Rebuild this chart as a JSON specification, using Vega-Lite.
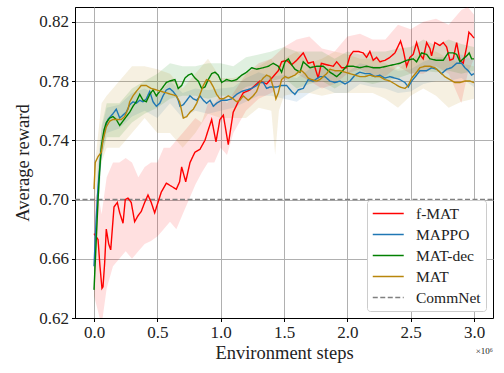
{
"$schema": "https://vega.github.io/schema/vega-lite/v6.json",
"width": 418, "height": 311,
"autosize": {"type": "none"},
"padding": {"left": 75, "top": 7, "right": 11, "bottom": 55},
"background": "white",
"config": {
  "font": "Liberation Serif",
  "view": {"stroke": "#000", "strokeWidth": 1},
  "axis": {"grid": true, "gridColor": "#b0b0b0", "gridWidth": 1, "domainColor": "#000", "domainWidth": 1, "tickColor": "#000", "tickSize": 3.5, "labelFont": "Liberation Serif", "labelFontSize": 17, "labelColor": "#222", "titleFont": "Liberation Serif", "titleFontSize": 18.5, "titleFontWeight": "normal", "titleColor": "#222", "labelPadding": 3, "titlePadding": 3},
  "legend": {"labelFont": "Liberation Serif", "labelFontSize": 15.5, "labelColor": "#222", "symbolStrokeWidth": 1.5, "padding": 5, "strokeColor": "#cccccc", "fillColor": "#ffffff", "cornerRadius": 3}
},
"datasets": {
"bands": [
{"s":"f-MAT","x":0.00,"lo":0.635,"hi":0.700},{"s":"f-MAT","x":0.03,"lo":0.625,"hi":0.705},{"s":"f-MAT","x":0.06,"lo":0.615,"hi":0.690},{"s":"f-MAT","x":0.10,"lo":0.640,"hi":0.715},{"s":"f-MAT","x":0.15,"lo":0.655,"hi":0.725},{"s":"f-MAT","x":0.20,"lo":0.660,"hi":0.725},{"s":"f-MAT","x":0.25,"lo":0.665,"hi":0.728},{"s":"f-MAT","x":0.30,"lo":0.660,"hi":0.725},{"s":"f-MAT","x":0.35,"lo":0.665,"hi":0.715},{"s":"f-MAT","x":0.40,"lo":0.670,"hi":0.722},{"s":"f-MAT","x":0.45,"lo":0.672,"hi":0.725},{"s":"f-MAT","x":0.50,"lo":0.675,"hi":0.725},{"s":"f-MAT","x":0.55,"lo":0.680,"hi":0.735},{"s":"f-MAT","x":0.60,"lo":0.685,"hi":0.735},{"s":"f-MAT","x":0.65,"lo":0.680,"hi":0.740},{"s":"f-MAT","x":0.70,"lo":0.690,"hi":0.745},{"s":"f-MAT","x":0.75,"lo":0.700,"hi":0.750},{"s":"f-MAT","x":0.80,"lo":0.710,"hi":0.755},{"s":"f-MAT","x":0.85,"lo":0.718,"hi":0.752},{"s":"f-MAT","x":0.90,"lo":0.725,"hi":0.765},{"s":"f-MAT","x":0.95,"lo":0.725,"hi":0.765},{"s":"f-MAT","x":1.00,"lo":0.735,"hi":0.770},{"s":"f-MAT","x":1.05,"lo":0.730,"hi":0.765},{"s":"f-MAT","x":1.10,"lo":0.745,"hi":0.772},{"s":"f-MAT","x":1.20,"lo":0.760,"hi":0.785},{"s":"f-MAT","x":1.30,"lo":0.768,"hi":0.792},{"s":"f-MAT","x":1.40,"lo":0.772,"hi":0.795},{"s":"f-MAT","x":1.50,"lo":0.780,"hi":0.803},{"s":"f-MAT","x":1.60,"lo":0.785,"hi":0.808},{"s":"f-MAT","x":1.70,"lo":0.780,"hi":0.810},{"s":"f-MAT","x":1.80,"lo":0.775,"hi":0.802},{"s":"f-MAT","x":1.90,"lo":0.778,"hi":0.800},{"s":"f-MAT","x":2.00,"lo":0.785,"hi":0.810},{"s":"f-MAT","x":2.10,"lo":0.788,"hi":0.812},{"s":"f-MAT","x":2.20,"lo":0.783,"hi":0.808},{"s":"f-MAT","x":2.30,"lo":0.783,"hi":0.808},{"s":"f-MAT","x":2.40,"lo":0.790,"hi":0.818},{"s":"f-MAT","x":2.50,"lo":0.785,"hi":0.815},{"s":"f-MAT","x":2.60,"lo":0.785,"hi":0.820},{"s":"f-MAT","x":2.70,"lo":0.790,"hi":0.822},{"s":"f-MAT","x":2.80,"lo":0.785,"hi":0.818},{"s":"f-MAT","x":2.90,"lo":0.765,"hi":0.828},{"s":"f-MAT","x":2.95,"lo":0.785,"hi":0.830},{"s":"f-MAT","x":3.00,"lo":0.795,"hi":0.825},
{"s":"MAPPO","x":0.00,"lo":0.640,"hi":0.670},{"s":"MAPPO","x":0.03,"lo":0.690,"hi":0.725},{"s":"MAPPO","x":0.06,"lo":0.728,"hi":0.748},{"s":"MAPPO","x":0.10,"lo":0.745,"hi":0.762},{"s":"MAPPO","x":0.20,"lo":0.748,"hi":0.764},{"s":"MAPPO","x":0.30,"lo":0.756,"hi":0.772},{"s":"MAPPO","x":0.40,"lo":0.760,"hi":0.775},{"s":"MAPPO","x":0.50,"lo":0.755,"hi":0.770},{"s":"MAPPO","x":0.60,"lo":0.765,"hi":0.780},{"s":"MAPPO","x":0.70,"lo":0.755,"hi":0.772},{"s":"MAPPO","x":0.80,"lo":0.760,"hi":0.775},{"s":"MAPPO","x":0.90,"lo":0.758,"hi":0.774},{"s":"MAPPO","x":1.00,"lo":0.760,"hi":0.775},{"s":"MAPPO","x":1.10,"lo":0.762,"hi":0.776},{"s":"MAPPO","x":1.20,"lo":0.766,"hi":0.782},{"s":"MAPPO","x":1.30,"lo":0.770,"hi":0.786},{"s":"MAPPO","x":1.40,"lo":0.770,"hi":0.783},{"s":"MAPPO","x":1.50,"lo":0.768,"hi":0.784},{"s":"MAPPO","x":1.60,"lo":0.766,"hi":0.782},{"s":"MAPPO","x":1.70,"lo":0.772,"hi":0.788},{"s":"MAPPO","x":1.80,"lo":0.776,"hi":0.790},{"s":"MAPPO","x":1.90,"lo":0.772,"hi":0.787},{"s":"MAPPO","x":2.00,"lo":0.772,"hi":0.786},{"s":"MAPPO","x":2.10,"lo":0.778,"hi":0.792},{"s":"MAPPO","x":2.20,"lo":0.776,"hi":0.790},{"s":"MAPPO","x":2.30,"lo":0.775,"hi":0.790},{"s":"MAPPO","x":2.40,"lo":0.772,"hi":0.787},{"s":"MAPPO","x":2.50,"lo":0.773,"hi":0.788},{"s":"MAPPO","x":2.60,"lo":0.778,"hi":0.793},{"s":"MAPPO","x":2.70,"lo":0.780,"hi":0.796},{"s":"MAPPO","x":2.80,"lo":0.780,"hi":0.796},{"s":"MAPPO","x":2.90,"lo":0.782,"hi":0.798},{"s":"MAPPO","x":3.00,"lo":0.776,"hi":0.794},
{"s":"MAT-dec","x":0.00,"lo":0.625,"hi":0.655},{"s":"MAT-dec","x":0.03,"lo":0.685,"hi":0.715},{"s":"MAT-dec","x":0.06,"lo":0.728,"hi":0.750},{"s":"MAT-dec","x":0.10,"lo":0.742,"hi":0.765},{"s":"MAT-dec","x":0.20,"lo":0.742,"hi":0.765},{"s":"MAT-dec","x":0.30,"lo":0.752,"hi":0.775},{"s":"MAT-dec","x":0.40,"lo":0.758,"hi":0.780},{"s":"MAT-dec","x":0.50,"lo":0.762,"hi":0.785},{"s":"MAT-dec","x":0.60,"lo":0.768,"hi":0.792},{"s":"MAT-dec","x":0.70,"lo":0.770,"hi":0.790},{"s":"MAT-dec","x":0.80,"lo":0.770,"hi":0.790},{"s":"MAT-dec","x":0.90,"lo":0.768,"hi":0.792},{"s":"MAT-dec","x":1.00,"lo":0.770,"hi":0.792},{"s":"MAT-dec","x":1.10,"lo":0.770,"hi":0.790},{"s":"MAT-dec","x":1.20,"lo":0.776,"hi":0.796},{"s":"MAT-dec","x":1.30,"lo":0.778,"hi":0.798},{"s":"MAT-dec","x":1.40,"lo":0.780,"hi":0.800},{"s":"MAT-dec","x":1.50,"lo":0.782,"hi":0.803},{"s":"MAT-dec","x":1.60,"lo":0.775,"hi":0.800},{"s":"MAT-dec","x":1.70,"lo":0.778,"hi":0.800},{"s":"MAT-dec","x":1.80,"lo":0.780,"hi":0.800},{"s":"MAT-dec","x":1.90,"lo":0.775,"hi":0.795},{"s":"MAT-dec","x":2.00,"lo":0.780,"hi":0.800},{"s":"MAT-dec","x":2.10,"lo":0.780,"hi":0.798},{"s":"MAT-dec","x":2.20,"lo":0.778,"hi":0.800},{"s":"MAT-dec","x":2.30,"lo":0.780,"hi":0.800},{"s":"MAT-dec","x":2.40,"lo":0.782,"hi":0.802},{"s":"MAT-dec","x":2.50,"lo":0.785,"hi":0.803},{"s":"MAT-dec","x":2.60,"lo":0.787,"hi":0.808},{"s":"MAT-dec","x":2.70,"lo":0.786,"hi":0.804},{"s":"MAT-dec","x":2.80,"lo":0.787,"hi":0.808},{"s":"MAT-dec","x":2.90,"lo":0.785,"hi":0.805},{"s":"MAT-dec","x":3.00,"lo":0.787,"hi":0.803},
{"s":"MAT","x":0.00,"lo":0.695,"hi":0.718},{"s":"MAT","x":0.03,"lo":0.715,"hi":0.742},{"s":"MAT","x":0.06,"lo":0.725,"hi":0.765},{"s":"MAT","x":0.10,"lo":0.735,"hi":0.770},{"s":"MAT","x":0.20,"lo":0.735,"hi":0.780},{"s":"MAT","x":0.30,"lo":0.745,"hi":0.790},{"s":"MAT","x":0.40,"lo":0.755,"hi":0.790},{"s":"MAT","x":0.50,"lo":0.745,"hi":0.788},{"s":"MAT","x":0.60,"lo":0.745,"hi":0.785},{"s":"MAT","x":0.70,"lo":0.735,"hi":0.775},{"s":"MAT","x":0.80,"lo":0.745,"hi":0.785},{"s":"MAT","x":0.90,"lo":0.758,"hi":0.795},{"s":"MAT","x":1.00,"lo":0.755,"hi":0.782},{"s":"MAT","x":1.10,"lo":0.755,"hi":0.782},{"s":"MAT","x":1.20,"lo":0.755,"hi":0.785},{"s":"MAT","x":1.30,"lo":0.762,"hi":0.790},{"s":"MAT","x":1.40,"lo":0.760,"hi":0.795},{"s":"MAT","x":1.43,"lo":0.730,"hi":0.790},{"s":"MAT","x":1.46,"lo":0.760,"hi":0.790},{"s":"MAT","x":1.50,"lo":0.770,"hi":0.795},{"s":"MAT","x":1.60,"lo":0.772,"hi":0.800},{"s":"MAT","x":1.70,"lo":0.772,"hi":0.792},{"s":"MAT","x":1.80,"lo":0.770,"hi":0.795},{"s":"MAT","x":1.90,"lo":0.772,"hi":0.800},{"s":"MAT","x":2.00,"lo":0.772,"hi":0.798},{"s":"MAT","x":2.10,"lo":0.772,"hi":0.795},{"s":"MAT","x":2.20,"lo":0.772,"hi":0.795},{"s":"MAT","x":2.30,"lo":0.768,"hi":0.792},{"s":"MAT","x":2.40,"lo":0.762,"hi":0.788},{"s":"MAT","x":2.50,"lo":0.770,"hi":0.795},{"s":"MAT","x":2.60,"lo":0.775,"hi":0.800},{"s":"MAT","x":2.70,"lo":0.770,"hi":0.800},{"s":"MAT","x":2.80,"lo":0.762,"hi":0.795},{"s":"MAT","x":2.90,"lo":0.766,"hi":0.792},{"s":"MAT","x":3.00,"lo":0.768,"hi":0.790}
],
"lines": [
{"s":"CommNet","x":-0.15,"y":0.70},{"s":"CommNet","x":3.15,"y":0.70},
{"s":"f-MAT","x":0.000,"y":0.677},{"s":"f-MAT","x":0.032,"y":0.673},{"s":"f-MAT","x":0.047,"y":0.655},{"s":"f-MAT","x":0.063,"y":0.640},{"s":"f-MAT","x":0.071,"y":0.641},{"s":"f-MAT","x":0.084,"y":0.657},{"s":"f-MAT","x":0.097,"y":0.680},{"s":"f-MAT","x":0.116,"y":0.670},{"s":"f-MAT","x":0.132,"y":0.666},{"s":"f-MAT","x":0.158,"y":0.695},{"s":"f-MAT","x":0.184,"y":0.698},{"s":"f-MAT","x":0.203,"y":0.691},{"s":"f-MAT","x":0.229,"y":0.684},{"s":"f-MAT","x":0.247,"y":0.700},{"s":"f-MAT","x":0.268,"y":0.701},{"s":"f-MAT","x":0.294,"y":0.698},{"s":"f-MAT","x":0.321,"y":0.685},{"s":"f-MAT","x":0.347,"y":0.689},{"s":"f-MAT","x":0.373,"y":0.692},{"s":"f-MAT","x":0.400,"y":0.698},{"s":"f-MAT","x":0.426,"y":0.703},{"s":"f-MAT","x":0.452,"y":0.698},{"s":"f-MAT","x":0.479,"y":0.691},{"s":"f-MAT","x":0.505,"y":0.698},{"s":"f-MAT","x":0.531,"y":0.705},{"s":"f-MAT","x":0.571,"y":0.711},{"s":"f-MAT","x":0.610,"y":0.709},{"s":"f-MAT","x":0.650,"y":0.707},{"s":"f-MAT","x":0.676,"y":0.712},{"s":"f-MAT","x":0.692,"y":0.722},{"s":"f-MAT","x":0.724,"y":0.712},{"s":"f-MAT","x":0.758,"y":0.725},{"s":"f-MAT","x":0.797,"y":0.732},{"s":"f-MAT","x":0.837,"y":0.734},{"s":"f-MAT","x":0.876,"y":0.740},{"s":"f-MAT","x":0.902,"y":0.747},{"s":"f-MAT","x":0.929,"y":0.754},{"s":"f-MAT","x":0.963,"y":0.739},{"s":"f-MAT","x":0.994,"y":0.754},{"s":"f-MAT","x":1.021,"y":0.757},{"s":"f-MAT","x":1.060,"y":0.737},{"s":"f-MAT","x":1.099,"y":0.759},{"s":"f-MAT","x":1.139,"y":0.766},{"s":"f-MAT","x":1.178,"y":0.772},{"s":"f-MAT","x":1.231,"y":0.774},{"s":"f-MAT","x":1.270,"y":0.777},{"s":"f-MAT","x":1.310,"y":0.780},{"s":"f-MAT","x":1.363,"y":0.778},{"s":"f-MAT","x":1.415,"y":0.783},{"s":"f-MAT","x":1.455,"y":0.787},{"s":"f-MAT","x":1.481,"y":0.793},{"s":"f-MAT","x":1.521,"y":0.794},{"s":"f-MAT","x":1.560,"y":0.791},{"s":"f-MAT","x":1.600,"y":0.794},{"s":"f-MAT","x":1.652,"y":0.799},{"s":"f-MAT","x":1.691,"y":0.792},{"s":"f-MAT","x":1.731,"y":0.793},{"s":"f-MAT","x":1.770,"y":0.782},{"s":"f-MAT","x":1.795,"y":0.792},{"s":"f-MAT","x":1.837,"y":0.791},{"s":"f-MAT","x":1.889,"y":0.790},{"s":"f-MAT","x":1.916,"y":0.793},{"s":"f-MAT","x":1.955,"y":0.789},{"s":"f-MAT","x":1.994,"y":0.789},{"s":"f-MAT","x":2.021,"y":0.797},{"s":"f-MAT","x":2.047,"y":0.800},{"s":"f-MAT","x":2.086,"y":0.800},{"s":"f-MAT","x":2.125,"y":0.799},{"s":"f-MAT","x":2.152,"y":0.796},{"s":"f-MAT","x":2.178,"y":0.800},{"s":"f-MAT","x":2.204,"y":0.794},{"s":"f-MAT","x":2.231,"y":0.796},{"s":"f-MAT","x":2.257,"y":0.793},{"s":"f-MAT","x":2.297,"y":0.794},{"s":"f-MAT","x":2.336,"y":0.796},{"s":"f-MAT","x":2.376,"y":0.799},{"s":"f-MAT","x":2.420,"y":0.807},{"s":"f-MAT","x":2.441,"y":0.801},{"s":"f-MAT","x":2.468,"y":0.790},{"s":"f-MAT","x":2.494,"y":0.796},{"s":"f-MAT","x":2.520,"y":0.798},{"s":"f-MAT","x":2.547,"y":0.806},{"s":"f-MAT","x":2.573,"y":0.798},{"s":"f-MAT","x":2.599,"y":0.795},{"s":"f-MAT","x":2.626,"y":0.806},{"s":"f-MAT","x":2.652,"y":0.802},{"s":"f-MAT","x":2.665,"y":0.797},{"s":"f-MAT","x":2.691,"y":0.806},{"s":"f-MAT","x":2.731,"y":0.804},{"s":"f-MAT","x":2.757,"y":0.806},{"s":"f-MAT","x":2.784,"y":0.803},{"s":"f-MAT","x":2.810,"y":0.794},{"s":"f-MAT","x":2.836,"y":0.795},{"s":"f-MAT","x":2.863,"y":0.806},{"s":"f-MAT","x":2.889,"y":0.794},{"s":"f-MAT","x":2.915,"y":0.792},{"s":"f-MAT","x":2.942,"y":0.803},{"s":"f-MAT","x":2.960,"y":0.813},{"s":"f-MAT","x":2.981,"y":0.811},{"s":"f-MAT","x":3.000,"y":0.809},
{"s":"MAPPO","x":0.000,"y":0.655},{"s":"MAPPO","x":0.016,"y":0.685},{"s":"MAPPO","x":0.032,"y":0.709},{"s":"MAPPO","x":0.058,"y":0.734},{"s":"MAPPO","x":0.084,"y":0.747},{"s":"MAPPO","x":0.110,"y":0.754},{"s":"MAPPO","x":0.150,"y":0.758},{"s":"MAPPO","x":0.176,"y":0.761},{"s":"MAPPO","x":0.203,"y":0.755},{"s":"MAPPO","x":0.229,"y":0.757},{"s":"MAPPO","x":0.255,"y":0.759},{"s":"MAPPO","x":0.282,"y":0.764},{"s":"MAPPO","x":0.308,"y":0.766},{"s":"MAPPO","x":0.334,"y":0.765},{"s":"MAPPO","x":0.361,"y":0.767},{"s":"MAPPO","x":0.387,"y":0.766},{"s":"MAPPO","x":0.413,"y":0.768},{"s":"MAPPO","x":0.440,"y":0.773},{"s":"MAPPO","x":0.466,"y":0.766},{"s":"MAPPO","x":0.492,"y":0.763},{"s":"MAPPO","x":0.519,"y":0.765},{"s":"MAPPO","x":0.545,"y":0.770},{"s":"MAPPO","x":0.571,"y":0.774},{"s":"MAPPO","x":0.597,"y":0.775},{"s":"MAPPO","x":0.624,"y":0.773},{"s":"MAPPO","x":0.650,"y":0.770},{"s":"MAPPO","x":0.665,"y":0.767},{"s":"MAPPO","x":0.679,"y":0.763},{"s":"MAPPO","x":0.705,"y":0.764},{"s":"MAPPO","x":0.732,"y":0.767},{"s":"MAPPO","x":0.758,"y":0.770},{"s":"MAPPO","x":0.784,"y":0.768},{"s":"MAPPO","x":0.811,"y":0.767},{"s":"MAPPO","x":0.837,"y":0.770},{"s":"MAPPO","x":0.863,"y":0.767},{"s":"MAPPO","x":0.889,"y":0.765},{"s":"MAPPO","x":0.916,"y":0.767},{"s":"MAPPO","x":0.942,"y":0.763},{"s":"MAPPO","x":0.968,"y":0.765},{"s":"MAPPO","x":1.008,"y":0.767},{"s":"MAPPO","x":1.047,"y":0.767},{"s":"MAPPO","x":1.087,"y":0.768},{"s":"MAPPO","x":1.126,"y":0.771},{"s":"MAPPO","x":1.166,"y":0.773},{"s":"MAPPO","x":1.205,"y":0.774},{"s":"MAPPO","x":1.245,"y":0.775},{"s":"MAPPO","x":1.284,"y":0.777},{"s":"MAPPO","x":1.310,"y":0.779},{"s":"MAPPO","x":1.336,"y":0.779},{"s":"MAPPO","x":1.363,"y":0.775},{"s":"MAPPO","x":1.389,"y":0.776},{"s":"MAPPO","x":1.442,"y":0.776},{"s":"MAPPO","x":1.481,"y":0.777},{"s":"MAPPO","x":1.521,"y":0.777},{"s":"MAPPO","x":1.560,"y":0.773},{"s":"MAPPO","x":1.586,"y":0.771},{"s":"MAPPO","x":1.612,"y":0.774},{"s":"MAPPO","x":1.652,"y":0.775},{"s":"MAPPO","x":1.691,"y":0.781},{"s":"MAPPO","x":1.731,"y":0.780},{"s":"MAPPO","x":1.784,"y":0.783},{"s":"MAPPO","x":1.823,"y":0.783},{"s":"MAPPO","x":1.863,"y":0.780},{"s":"MAPPO","x":1.902,"y":0.779},{"s":"MAPPO","x":1.942,"y":0.780},{"s":"MAPPO","x":1.981,"y":0.778},{"s":"MAPPO","x":2.021,"y":0.780},{"s":"MAPPO","x":2.060,"y":0.784},{"s":"MAPPO","x":2.099,"y":0.786},{"s":"MAPPO","x":2.139,"y":0.785},{"s":"MAPPO","x":2.178,"y":0.785},{"s":"MAPPO","x":2.218,"y":0.783},{"s":"MAPPO","x":2.257,"y":0.784},{"s":"MAPPO","x":2.297,"y":0.782},{"s":"MAPPO","x":2.336,"y":0.783},{"s":"MAPPO","x":2.376,"y":0.782},{"s":"MAPPO","x":2.415,"y":0.781},{"s":"MAPPO","x":2.455,"y":0.779},{"s":"MAPPO","x":2.481,"y":0.776},{"s":"MAPPO","x":2.508,"y":0.780},{"s":"MAPPO","x":2.547,"y":0.784},{"s":"MAPPO","x":2.573,"y":0.787},{"s":"MAPPO","x":2.626,"y":0.787},{"s":"MAPPO","x":2.665,"y":0.789},{"s":"MAPPO","x":2.705,"y":0.788},{"s":"MAPPO","x":2.744,"y":0.785},{"s":"MAPPO","x":2.784,"y":0.788},{"s":"MAPPO","x":2.823,"y":0.789},{"s":"MAPPO","x":2.863,"y":0.792},{"s":"MAPPO","x":2.902,"y":0.792},{"s":"MAPPO","x":2.928,"y":0.789},{"s":"MAPPO","x":2.954,"y":0.787},{"s":"MAPPO","x":2.981,"y":0.784},{"s":"MAPPO","x":3.000,"y":0.785},
{"s":"MAT-dec","x":0.000,"y":0.639},{"s":"MAT-dec","x":0.032,"y":0.700},{"s":"MAT-dec","x":0.045,"y":0.720},{"s":"MAT-dec","x":0.058,"y":0.736},{"s":"MAT-dec","x":0.079,"y":0.747},{"s":"MAT-dec","x":0.097,"y":0.752},{"s":"MAT-dec","x":0.124,"y":0.755},{"s":"MAT-dec","x":0.150,"y":0.756},{"s":"MAT-dec","x":0.176,"y":0.754},{"s":"MAT-dec","x":0.203,"y":0.750},{"s":"MAT-dec","x":0.229,"y":0.753},{"s":"MAT-dec","x":0.255,"y":0.756},{"s":"MAT-dec","x":0.282,"y":0.759},{"s":"MAT-dec","x":0.308,"y":0.763},{"s":"MAT-dec","x":0.334,"y":0.766},{"s":"MAT-dec","x":0.361,"y":0.771},{"s":"MAT-dec","x":0.387,"y":0.767},{"s":"MAT-dec","x":0.413,"y":0.766},{"s":"MAT-dec","x":0.440,"y":0.771},{"s":"MAT-dec","x":0.466,"y":0.774},{"s":"MAT-dec","x":0.492,"y":0.770},{"s":"MAT-dec","x":0.519,"y":0.773},{"s":"MAT-dec","x":0.545,"y":0.776},{"s":"MAT-dec","x":0.571,"y":0.779},{"s":"MAT-dec","x":0.597,"y":0.780},{"s":"MAT-dec","x":0.639,"y":0.781},{"s":"MAT-dec","x":0.665,"y":0.775},{"s":"MAT-dec","x":0.692,"y":0.777},{"s":"MAT-dec","x":0.718,"y":0.782},{"s":"MAT-dec","x":0.744,"y":0.784},{"s":"MAT-dec","x":0.771,"y":0.785},{"s":"MAT-dec","x":0.797,"y":0.782},{"s":"MAT-dec","x":0.823,"y":0.780},{"s":"MAT-dec","x":0.850,"y":0.775},{"s":"MAT-dec","x":0.876,"y":0.776},{"s":"MAT-dec","x":0.902,"y":0.781},{"s":"MAT-dec","x":0.929,"y":0.785},{"s":"MAT-dec","x":0.955,"y":0.786},{"s":"MAT-dec","x":0.981,"y":0.784},{"s":"MAT-dec","x":1.008,"y":0.779},{"s":"MAT-dec","x":1.047,"y":0.781},{"s":"MAT-dec","x":1.087,"y":0.780},{"s":"MAT-dec","x":1.126,"y":0.781},{"s":"MAT-dec","x":1.166,"y":0.784},{"s":"MAT-dec","x":1.205,"y":0.786},{"s":"MAT-dec","x":1.245,"y":0.789},{"s":"MAT-dec","x":1.284,"y":0.788},{"s":"MAT-dec","x":1.336,"y":0.789},{"s":"MAT-dec","x":1.376,"y":0.790},{"s":"MAT-dec","x":1.415,"y":0.792},{"s":"MAT-dec","x":1.455,"y":0.790},{"s":"MAT-dec","x":1.481,"y":0.786},{"s":"MAT-dec","x":1.508,"y":0.793},{"s":"MAT-dec","x":1.534,"y":0.795},{"s":"MAT-dec","x":1.560,"y":0.791},{"s":"MAT-dec","x":1.586,"y":0.788},{"s":"MAT-dec","x":1.626,"y":0.786},{"s":"MAT-dec","x":1.652,"y":0.793},{"s":"MAT-dec","x":1.705,"y":0.789},{"s":"MAT-dec","x":1.758,"y":0.790},{"s":"MAT-dec","x":1.810,"y":0.790},{"s":"MAT-dec","x":1.863,"y":0.786},{"s":"MAT-dec","x":1.916,"y":0.783},{"s":"MAT-dec","x":1.942,"y":0.785},{"s":"MAT-dec","x":1.994,"y":0.790},{"s":"MAT-dec","x":2.047,"y":0.790},{"s":"MAT-dec","x":2.099,"y":0.789},{"s":"MAT-dec","x":2.152,"y":0.790},{"s":"MAT-dec","x":2.204,"y":0.789},{"s":"MAT-dec","x":2.257,"y":0.789},{"s":"MAT-dec","x":2.310,"y":0.790},{"s":"MAT-dec","x":2.362,"y":0.791},{"s":"MAT-dec","x":2.415,"y":0.792},{"s":"MAT-dec","x":2.468,"y":0.794},{"s":"MAT-dec","x":2.520,"y":0.795},{"s":"MAT-dec","x":2.547,"y":0.793},{"s":"MAT-dec","x":2.586,"y":0.799},{"s":"MAT-dec","x":2.626,"y":0.798},{"s":"MAT-dec","x":2.652,"y":0.795},{"s":"MAT-dec","x":2.705,"y":0.794},{"s":"MAT-dec","x":2.757,"y":0.794},{"s":"MAT-dec","x":2.796,"y":0.799},{"s":"MAT-dec","x":2.836,"y":0.799},{"s":"MAT-dec","x":2.863,"y":0.798},{"s":"MAT-dec","x":2.889,"y":0.793},{"s":"MAT-dec","x":2.915,"y":0.795},{"s":"MAT-dec","x":2.942,"y":0.797},{"s":"MAT-dec","x":2.962,"y":0.799},{"s":"MAT-dec","x":2.981,"y":0.795},{"s":"MAT-dec","x":3.000,"y":0.795},
{"s":"MAT","x":0.000,"y":0.707},{"s":"MAT","x":0.010,"y":0.725},{"s":"MAT","x":0.032,"y":0.729},{"s":"MAT","x":0.058,"y":0.732},{"s":"MAT","x":0.071,"y":0.740},{"s":"MAT","x":0.097,"y":0.749},{"s":"MAT","x":0.124,"y":0.753},{"s":"MAT","x":0.150,"y":0.754},{"s":"MAT","x":0.189,"y":0.754},{"s":"MAT","x":0.215,"y":0.754},{"s":"MAT","x":0.242,"y":0.756},{"s":"MAT","x":0.268,"y":0.761},{"s":"MAT","x":0.282,"y":0.766},{"s":"MAT","x":0.308,"y":0.770},{"s":"MAT","x":0.334,"y":0.773},{"s":"MAT","x":0.373,"y":0.777},{"s":"MAT","x":0.413,"y":0.777},{"s":"MAT","x":0.452,"y":0.775},{"s":"MAT","x":0.492,"y":0.774},{"s":"MAT","x":0.531,"y":0.773},{"s":"MAT","x":0.571,"y":0.772},{"s":"MAT","x":0.610,"y":0.771},{"s":"MAT","x":0.650,"y":0.770},{"s":"MAT","x":0.676,"y":0.766},{"s":"MAT","x":0.705,"y":0.755},{"s":"MAT","x":0.732,"y":0.756},{"s":"MAT","x":0.758,"y":0.759},{"s":"MAT","x":0.784,"y":0.761},{"s":"MAT","x":0.811,"y":0.765},{"s":"MAT","x":0.837,"y":0.771},{"s":"MAT","x":0.863,"y":0.777},{"s":"MAT","x":0.889,"y":0.781},{"s":"MAT","x":0.916,"y":0.780},{"s":"MAT","x":0.942,"y":0.776},{"s":"MAT","x":0.968,"y":0.771},{"s":"MAT","x":0.994,"y":0.768},{"s":"MAT","x":1.021,"y":0.768},{"s":"MAT","x":1.060,"y":0.770},{"s":"MAT","x":1.099,"y":0.768},{"s":"MAT","x":1.126,"y":0.766},{"s":"MAT","x":1.152,"y":0.767},{"s":"MAT","x":1.178,"y":0.770},{"s":"MAT","x":1.218,"y":0.767},{"s":"MAT","x":1.257,"y":0.770},{"s":"MAT","x":1.284,"y":0.773},{"s":"MAT","x":1.310,"y":0.779},{"s":"MAT","x":1.336,"y":0.782},{"s":"MAT","x":1.363,"y":0.784},{"s":"MAT","x":1.389,"y":0.783},{"s":"MAT","x":1.415,"y":0.776},{"s":"MAT","x":1.436,"y":0.768},{"s":"MAT","x":1.455,"y":0.772},{"s":"MAT","x":1.481,"y":0.781},{"s":"MAT","x":1.508,"y":0.783},{"s":"MAT","x":1.534,"y":0.782},{"s":"MAT","x":1.560,"y":0.783},{"s":"MAT","x":1.586,"y":0.784},{"s":"MAT","x":1.612,"y":0.786},{"s":"MAT","x":1.639,"y":0.787},{"s":"MAT","x":1.665,"y":0.785},{"s":"MAT","x":1.691,"y":0.782},{"s":"MAT","x":1.718,"y":0.781},{"s":"MAT","x":1.758,"y":0.780},{"s":"MAT","x":1.784,"y":0.781},{"s":"MAT","x":1.810,"y":0.783},{"s":"MAT","x":1.837,"y":0.785},{"s":"MAT","x":1.863,"y":0.788},{"s":"MAT","x":1.902,"y":0.787},{"s":"MAT","x":1.942,"y":0.787},{"s":"MAT","x":1.981,"y":0.786},{"s":"MAT","x":2.021,"y":0.785},{"s":"MAT","x":2.060,"y":0.784},{"s":"MAT","x":2.099,"y":0.783},{"s":"MAT","x":2.139,"y":0.783},{"s":"MAT","x":2.178,"y":0.784},{"s":"MAT","x":2.218,"y":0.783},{"s":"MAT","x":2.257,"y":0.783},{"s":"MAT","x":2.297,"y":0.781},{"s":"MAT","x":2.336,"y":0.780},{"s":"MAT","x":2.376,"y":0.778},{"s":"MAT","x":2.415,"y":0.776},{"s":"MAT","x":2.455,"y":0.775},{"s":"MAT","x":2.481,"y":0.777},{"s":"MAT","x":2.508,"y":0.782},{"s":"MAT","x":2.547,"y":0.786},{"s":"MAT","x":2.573,"y":0.789},{"s":"MAT","x":2.612,"y":0.790},{"s":"MAT","x":2.652,"y":0.790},{"s":"MAT","x":2.691,"y":0.789},{"s":"MAT","x":2.731,"y":0.786},{"s":"MAT","x":2.770,"y":0.783},{"s":"MAT","x":2.810,"y":0.781},{"s":"MAT","x":2.849,"y":0.779},{"s":"MAT","x":2.889,"y":0.779},{"s":"MAT","x":2.928,"y":0.780},{"s":"MAT","x":2.968,"y":0.780},{"s":"MAT","x":3.000,"y":0.779}
]
},
"layer": [
{
  "data": {"name": "bands"},
  "mark": {"type": "area", "fillOpacity": 0.12, "clip": true, "strokeWidth": 0},
  "encoding": {
    "x": {"field": "x", "type": "quantitative", "title": "Environment steps", "scale": {"domain": [-0.15, 3.15], "nice": false, "zero": false}, "axis": {"values": [0, 0.5, 1, 1.5, 2, 2.5, 3], "format": ".1f"}},
    "y": {"field": "lo", "type": "quantitative", "title": "Average reward", "scale": {"domain": [0.62, 0.83], "nice": false, "zero": false}, "axis": {"values": [0.62, 0.66, 0.70, 0.74, 0.78, 0.82], "format": ".2f", "titlePadding": 6}},
    "y2": {"field": "hi"},
    "fill": {"field": "s", "type": "nominal", "scale": {"domain": ["f-MAT", "MAPPO", "MAT-dec", "MAT"], "range": ["#ff0000", "#1f77b4", "#008000", "#b8860b"]}, "legend": null}
  }
},
{
  "data": {"name": "lines"},
  "mark": {"type": "line", "strokeWidth": 1.4, "clip": true},
  "encoding": {
    "x": {"field": "x", "type": "quantitative", "title": "Environment steps"},
    "y": {"field": "y", "type": "quantitative", "title": "Average reward"},
    "color": {"field": "s", "type": "nominal", "scale": {"domain": ["f-MAT", "MAPPO", "MAT-dec", "MAT", "CommNet"], "range": ["#ff0000", "#1f77b4", "#008000", "#b8860b", "#808080"]}, "legend": {"title": null, "orient": "bottom-right", "offset": 7, "symbolType": "M-1,0H3", "symbolSize": 240, "labelOffset": 27, "rowPadding": 4}},
    "strokeDash": {"field": "s", "type": "nominal", "scale": {"domain": ["f-MAT", "MAPPO", "MAT-dec", "MAT", "CommNet"], "range": [[1, 0], [1, 0], [1, 0], [1, 0], [5, 2.5]]}, "legend": {"title": null, "orient": "bottom-right", "offset": 7, "symbolType": "M-1,0H3", "symbolSize": 240, "labelOffset": 27, "rowPadding": 4}}
  }
},
{
  "data": {"values": [{}]},
  "mark": {"type": "text", "align": "right", "baseline": "middle", "fontSize": 9, "font": "Liberation Serif", "color": "#222"},
  "encoding": {
    "x": {"datum": 3.15, "type": "quantitative", "title": "Environment steps"},
    "y": {"datum": 0.598, "type": "quantitative", "title": "Average reward"},
    "text": {"value": "×10⁶"}
  }
}
]
}
